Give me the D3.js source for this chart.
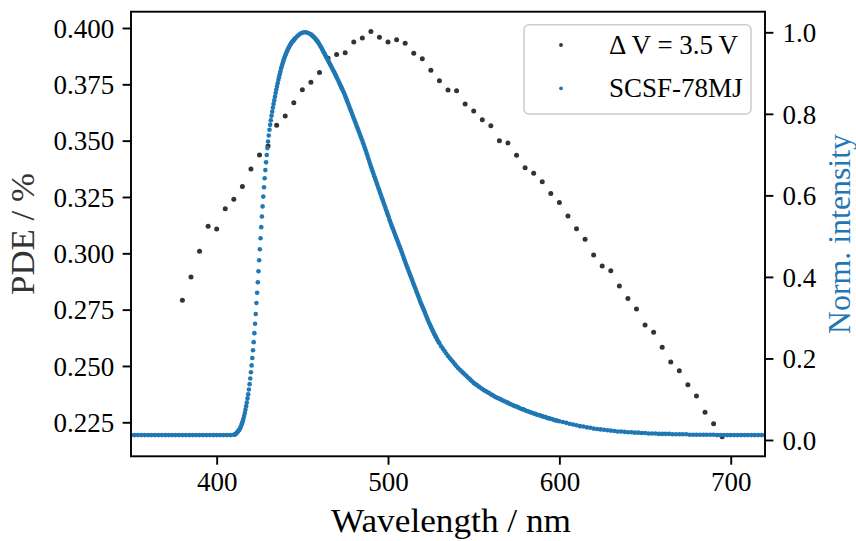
<!DOCTYPE html>
<html><head><meta charset="utf-8">
<script src="https://cdn.jsdelivr.net/npm/d3@7"></script>
<style>
body{margin:0;background:#fff}
svg{display:block}
text{font-family:"Liberation Serif","Times New Roman",serif}
</style>
</head><body>
<svg id="chart" width="856" height="541"></svg>
<script>
// PDE measurement (black dots), Delta V = 3.5 V
const pdeWavelength = [
380,385,390,395,400,405,410,415,420,425,
430,435,440,445,450,455,460,465,470,475,
480,485,490,495,500,505,510,515,520,525,
530,535,540,545,550,555,560,565,570,575,
580,585,590,595,600,605,610,615,620,625,
630,635,640,645,650,655,660,665,670,675,
680,685,690,695];
const pdeValues = [
0.2792,0.2895,0.3009,0.3120,0.3108,0.3198,0.3240,0.3296,0.3374,0.3436,
0.3476,0.3568,0.3609,0.3668,0.3726,0.3759,0.3802,0.3866,0.3882,0.3890,
0.3938,0.3956,0.3984,0.3959,0.3938,0.3948,0.3932,0.3888,0.3864,0.3813,
0.3766,0.3725,0.3722,0.3663,0.3632,0.3593,0.3566,0.3500,0.3490,0.3435,
0.3380,0.3355,0.3318,0.3265,0.3226,0.3166,0.3109,0.3062,0.2993,0.2944,
0.2923,0.2855,0.2799,0.2753,0.2682,0.2650,0.2583,0.2518,0.2479,0.2417,
0.2367,0.2295,0.2244,0.2186];

// SCSF-78MJ normalised emission spectrum (blue dots)
const emissionWavelength = [
350,352,354,356,358,360,362,364,366,368,
370,372,374,376,378,380,382,384,386,388,
390,392,394,396,398,400,402,404,406,408,
410.0,410.4,410.8,411.2,411.6,412.0,412.4,412.8,413.2,413.6,
414.0,414.4,414.8,415.2,415.6,416.0,416.4,416.8,417.2,417.6,
418.0,418.4,418.8,419.2,419.6,420.0,420.4,420.8,421.2,421.6,
422.0,422.4,422.8,423.2,423.6,424.0,424.4,424.8,425.2,425.6,
426.0,426.4,426.8,427.2,427.6,428.0,428.4,428.8,429.2,429.6,
430.0,430.4,430.8,431.2,431.6,432.0,432.4,432.8,433.2,433.6,
434.0,434.4,434.8,435.2,435.6,436.0,436.4,436.8,437.2,437.6,
438.0,438.4,438.8,439.2,439.6,440.0,440.4,440.8,441.2,441.6,
442.0,442.4,442.8,443.2,443.6,444.0,444.4,444.8,445.2,445.6,
446.0,
447,448,449,450,451,452,453,454,455,
455.5,456,456.5,457,457.5,458,458.5,459,459.5,460,
460.5,461,461.5,462,462.5,463,463.5,464,464.5,465,
465.5,466,466.5,467,467.5,468,468.5,469,469.5,470,
470.5,471,471.5,472,472.5,473,473.5,474,474.5,475,
475.5,476,476.5,477,477.5,478,478.5,479,479.5,480,
480.5,481,481.5,482,482.5,483,483.5,484,484.5,485,
485.5,486,486.5,487,487.5,488,488.5,489,489.5,490,
490.5,491,491.5,492,492.5,493,493.5,494,494.5,495,
495.5,496,496.5,497,497.5,498,498.5,499,499.5,500,
500.5,501,501.5,502,502.5,503,503.5,504,504.5,505,
505.5,506,506.5,507,507.5,508,508.5,509,509.5,510,
510.5,511,511.5,512,512.5,513,513.5,514,514.5,515,
515.5,516,516.5,517,517.5,518,518.5,519,519.5,520,
520.5,521,521.5,522,522.5,523,523.5,524,524.5,525,
525.5,526,526.5,527,527.5,528,528.5,529,529.5,530,
531,532,533,534,535,536,537,538,539,540,
541,542,543,544,545,546,547,548,549,550,
551,552,553,554,555,556,557,558,559,560,
561,562,563,564,565,566,567,568,569,570,
571,572,573,574,575,576,577,578,579,580,
581,582,583,584,585,586,587,588,589,590,
591,592,593,594,595,596,597,598,599,600,
602,604,606,608,610,612,614,616,618,620,
622,624,626,628,630,632,634,636,638,640,
642,644,646,648,650,652,654,656,658,660,
662,664,666,668,670,672,674,676,678,680,
682,684,686,688,690,692,694,696,698,700,
702,704,706,708,710,712,714,716,718,720];
const emissionIntensity = [
0.012,0.012,0.012,0.012,0.012,0.012,0.012,0.012,0.012,0.012,
0.012,0.012,0.012,0.012,0.012,0.012,0.012,0.012,0.012,0.012,
0.012,0.012,0.012,0.012,0.012,0.012,0.012,0.012,0.012,0.012,
0.013,0.013,0.014,0.015,0.017,0.019,0.021,0.023,0.025,0.028,
0.032,0.036,0.041,0.046,0.052,0.059,0.066,0.074,0.083,0.092,
0.102,0.112,0.124,0.137,0.151,0.166,0.183,0.201,0.220,0.240,
0.262,0.285,0.309,0.336,0.361,0.387,0.414,0.441,0.468,0.495,
0.522,0.548,0.573,0.597,0.620,0.642,0.662,0.681,0.699,0.716,
0.732,0.747,0.761,0.773,0.784,0.795,0.805,0.815,0.824,0.833,
0.842,0.851,0.859,0.867,0.875,0.883,0.890,0.897,0.904,0.911,
0.917,0.923,0.928,0.933,0.938,0.943,0.947,0.951,0.955,0.959,
0.962,0.965,0.968,0.971,0.974,0.976,0.978,0.980,0.982,0.984,
0.986,
0.990,0.994,0.997,0.999,1.000,1.000,0.999,0.997,0.995,
0.993,0.991,0.989,0.987,0.9845,0.982,0.9795,0.977,0.9735,0.970,
0.9665,0.963,0.959,0.955,0.951,0.947,0.943,0.939,0.935,0.931,
0.927,0.923,0.919,0.915,0.911,0.907,0.903,0.899,0.8945,0.890,
0.8855,0.881,0.8765,0.872,0.8675,0.863,0.8585,0.854,0.849,0.844,
0.8385,0.833,0.8275,0.822,0.8165,0.811,0.8055,0.800,0.7945,0.789,
0.7835,0.778,0.7725,0.767,0.7615,0.756,0.7505,0.745,0.7395,0.734,
0.728,0.722,0.716,0.710,0.7035,0.697,0.6905,0.684,0.6775,0.671,
0.665,0.659,0.653,0.647,0.641,0.635,0.629,0.623,0.617,0.611,
0.605,0.599,0.593,0.587,0.581,0.575,0.569,0.563,0.557,0.551,
0.545,0.539,0.533,0.527,0.5215,0.516,0.5105,0.505,0.4995,0.494,
0.4885,0.483,0.4775,0.472,0.4665,0.461,0.455,0.449,0.443,0.437,
0.4315,0.426,0.4205,0.415,0.4095,0.404,0.3985,0.393,0.3875,0.382,
0.3765,0.371,0.3655,0.360,0.3545,0.349,0.3435,0.338,0.333,0.328,
0.323,0.318,0.3125,0.307,0.302,0.297,0.292,0.287,0.2825,0.278,
0.2735,0.269,0.2645,0.260,0.256,0.252,0.248,0.244,0.2405,0.237,
0.230,0.224,0.218,0.212,0.206,0.201,0.196,0.191,0.186,0.181,
0.176,0.172,0.168,0.164,0.160,0.156,0.152,0.148,0.144,0.140,
0.137,0.134,0.131,0.128,0.125,0.122,0.120,0.117,0.115,0.112,
0.110,0.107,0.105,0.103,0.101,0.099,0.097,0.095,0.093,0.091,
0.089,0.087,0.085,0.083,0.082,0.080,0.078,0.076,0.075,0.073,
0.071,0.070,0.068,0.067,0.065,0.064,0.062,0.061,0.060,0.058,
0.057,0.056,0.054,0.053,0.052,0.051,0.049,0.048,0.047,0.046,
0.044,0.042,0.040,0.038,0.036,0.034,0.033,0.031,0.030,0.028,
0.027,0.026,0.025,0.024,0.023,0.022,0.021,0.021,0.020,0.019,
0.019,0.018,0.018,0.017,0.017,0.016,0.016,0.016,0.015,0.015,
0.015,0.015,0.014,0.014,0.014,0.014,0.014,0.013,0.013,0.013,
0.013,0.013,0.013,0.013,0.013,0.012,0.012,0.012,0.012,0.012,
0.012,0.012,0.012,0.012,0.012,0.012,0.012,0.012,0.012,0.012];

const xTicks = [400, 500, 600, 700];
const leftTicks = [0.225, 0.250, 0.275, 0.300, 0.325, 0.350, 0.375, 0.400];
const rightTicks = [0.0, 0.2, 0.4, 0.6, 0.8, 1.0];
const seriesNames = ["\u0394 V = 3.5\u2009V", "SCSF-78MJ"];
const xLabel = "Wavelength / nm";
const leftLabel = "PDE / %";
const rightLabel = "Norm. intensity";

const BLUE = "#1f77b4", DARK = "#333333";
const L = 131, R = 765, T = 11.7, B = 456.3;
const tickFont = 27;

const svg = d3.select("#chart");
const x = d3.scaleLinear().domain([350, 720]).range([L, R]);
const yL = d3.scaleLinear().domain([0.20991, 0.40723]).range([B, T]);
const yR = d3.scaleLinear().domain([-0.040, 1.0505]).range([B, T]);

svg.append("defs").append("clipPath").attr("id", "clip")
  .append("rect").attr("x", L).attr("y", T).attr("width", R - L).attr("height", B - T);

const plot = svg.append("g").attr("clip-path", "url(#clip)");

const pde = pdeWavelength.map((w, i) => ({w, v: pdeValues[i]}));
plot.append("g").selectAll("circle").data(pde).join("circle")
  .attr("cx", d => x(d.w)).attr("cy", d => yL(d.v)).attr("r", 2.5).attr("fill", DARK);

const n = Math.min(emissionWavelength.length, emissionIntensity.length);
const em = d3.range(n).map(i => ({w: emissionWavelength[i], v: emissionIntensity[i]}));
plot.append("g").selectAll("circle").data(em).join("circle")
  .attr("cx", d => x(d.w)).attr("cy", d => yR(d.v)).attr("r", 2.3).attr("fill", BLUE);

function styleAxis(g) {
  g.select(".domain").remove();
  g.selectAll(".tick line").attr("stroke", "#000").attr("stroke-width", 1.9);
  g.selectAll(".tick text").attr("fill", "#000").style("font-size", tickFont + "px")
    .style("font-family", '"Liberation Serif","Times New Roman",serif');
}

svg.append("g").attr("transform", `translate(0,${B})`)
  .call(d3.axisBottom(x).tickValues(xTicks).tickFormat(d3.format("d")).tickSize(8.4).tickPadding(8))
  .call(styleAxis)
  .call(g => g.selectAll(".tick text").attr("dy", null).attr("y", 35));

svg.append("g").attr("transform", `translate(${L},0)`)
  .call(d3.axisLeft(yL).tickValues(leftTicks).tickFormat(d3.format(".3f")).tickSize(8.4).tickPadding(8.4))
  .call(styleAxis)
  .call(g => g.selectAll(".tick text").attr("dy", "0.34em"));

svg.append("g").attr("transform", `translate(${R},0)`)
  .call(d3.axisRight(yR).tickValues(rightTicks).tickFormat(d3.format(".1f")).tickSize(8.4).tickPadding(9))
  .call(styleAxis)
  .call(g => g.selectAll(".tick text").attr("dy", "0.34em"));

// frame
svg.append("rect").attr("x", L).attr("y", T).attr("width", R - L).attr("height", B - T)
  .attr("fill", "none").attr("stroke", "#000").attr("stroke-width", 1.9);

// axis labels
svg.append("text").attr("x", (L + R) / 2 + 3).attr("y", 532).attr("text-anchor", "middle")
  .style("font-size", "33px").attr("textLength", 240).attr("lengthAdjust", "spacingAndGlyphs")
  .attr("fill", "#000").text(xLabel);
svg.append("text").attr("transform", `translate(34,${(T + B) / 2}) rotate(-90)`).attr("text-anchor", "middle")
  .style("font-size", "33px").attr("textLength", 122).attr("lengthAdjust", "spacingAndGlyphs")
  .attr("fill", DARK).text(leftLabel);
svg.append("text").attr("transform", `translate(850,${(T + B) / 2}) rotate(-90)`).attr("text-anchor", "middle")
  .style("font-size", "31px").attr("textLength", 200).attr("lengthAdjust", "spacingAndGlyphs")
  .attr("fill", BLUE).text(rightLabel);

// legend
const lg = svg.append("g");
lg.append("rect").attr("x", 524).attr("y", 24.7).attr("width", 227).attr("height", 89.3).attr("rx", 5)
  .attr("fill", "#fff").attr("fill-opacity", 0.8).attr("stroke", "#cccccc").attr("stroke-width", 1.5);
const legendItems = [{name: seriesNames[0], color: DARK, y: 45}, {name: seriesNames[1], color: BLUE, y: 88.3}];
legendItems.forEach(it => {
  lg.append("circle").attr("cx", 561).attr("cy", it.y).attr("r", 1.9).attr("fill", it.color);
  lg.append("text").attr("x", 609).attr("y", it.y).attr("dy", "0.34em")
    .style("font-size", tickFont + "px").attr("fill", "#000").text(it.name);
});
</script>
</body></html>
